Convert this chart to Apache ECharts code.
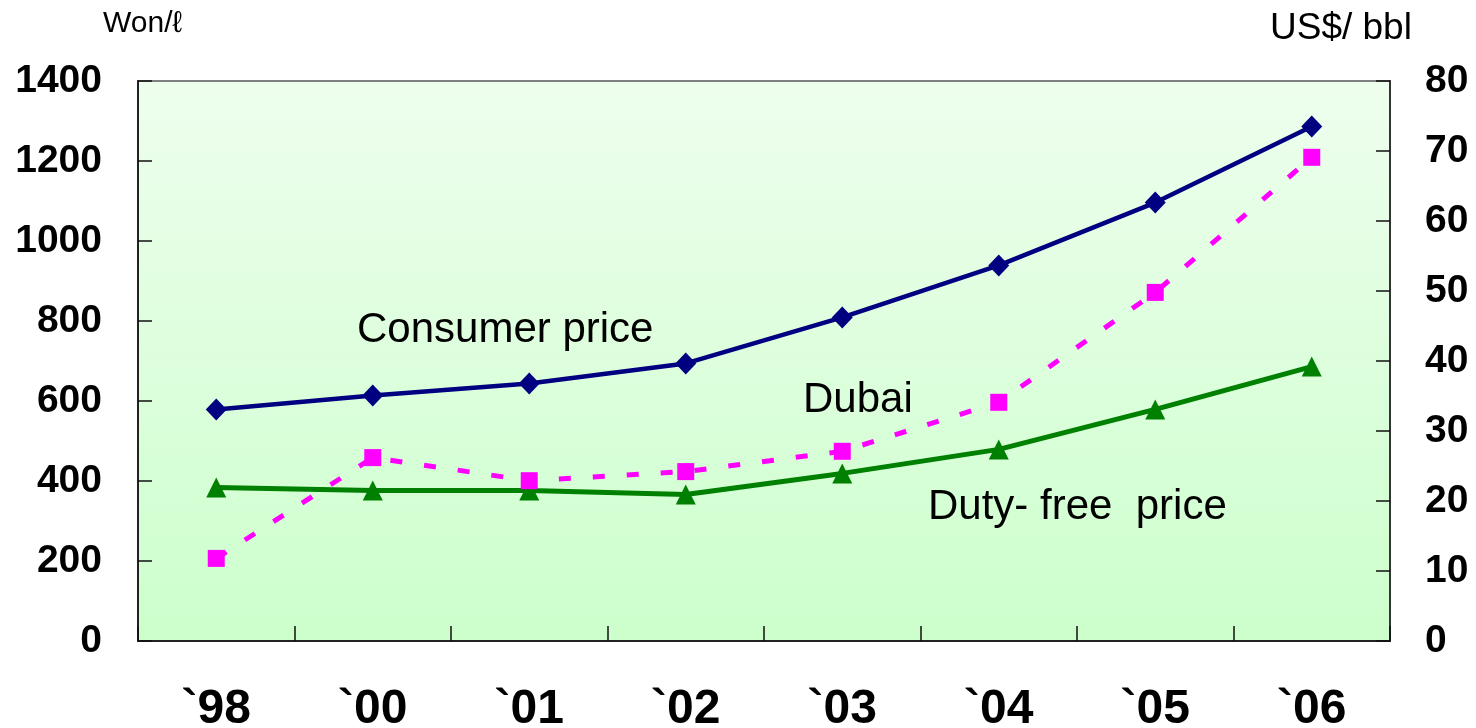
<!DOCTYPE html>
<html>
<head>
<meta charset="utf-8">
<script src="https://cdn.jsdelivr.net/npm/echarts@6/dist/echarts.min.js"></script>
<style>
  html, body { margin: 0; padding: 0; background: #ffffff; }
  #chart { width: 1476px; height: 728px; }
</style>
</head>
<body>
<div id="chart"></div>
<script>
// ---- data ----
const categories = ["`98", "`00", "`01", "`02", "`03", "`04", "`05", "`06"];
const consumerPrice = [579, 614, 644, 694, 809, 939, 1096, 1286];   // Won/ℓ (left axis)
const dutyFreePrice = [384, 376, 376, 366, 419, 479, 579, 686];     // Won/ℓ (left axis)
const dubaiPrice = [11.8, 26.2, 22.9, 24.2, 27.1, 34.1, 49.8, 69.1]; // US$/bbl (right axis)
const leftTicks = { min: 0, max: 1400, interval: 200 };
const rightTicks = { min: 0, max: 80, interval: 10 };

const chart = echarts.init(document.getElementById('chart'), null, { renderer: 'canvas' });
const FONT = '"Liberation Sans", Arial, sans-serif';
const NARROW = '"Liberation Sans Narrow", "Arial Narrow", "Liberation Sans", Arial, sans-serif';

chart.setOption({
  backgroundColor: '#ffffff',
  animation: false,
  grid: {
    left: 138, right: 86, top: 81, bottom: 87,
    containLabel: false,
    outerBoundsMode: 'none',
    show: true,
    borderColor: '#808080',
    borderWidth: 2,
    backgroundColor: {
      type: 'linear', x: 0, y: 0, x2: 0, y2: 1,
      colorStops: [
        { offset: 0, color: '#EEFEEE' },
        { offset: 1, color: '#CCFFCC' }
      ]
    }
  },
  xAxis: {
    type: 'category',
    data: categories,
    boundaryGap: true,
    axisLine: { show: true, lineStyle: { color: '#222222', width: 2 } },
    axisTick: { show: true, inside: true, length: 15, lineStyle: { color: '#111111', width: 1.5 } },
    axisLabel: {
      color: '#000000', fontFamily: NARROW, fontWeight: 'bold', fontSize: 48,
      margin: 69, verticalAlign: 'middle', lineHeight: 48
    },
    splitLine: { show: false }
  },
  yAxis: [
    {
      type: 'value',
      min: leftTicks.min, max: leftTicks.max, interval: leftTicks.interval,
      axisLine: { show: true, lineStyle: { color: '#222222', width: 2 } },
      axisTick: { show: true, inside: true, length: 14, lineStyle: { color: '#111111', width: 1.5 } },
      axisLabel: { color: '#000000', fontFamily: FONT, fontWeight: 'bold', fontSize: 39, margin: 36,
                   formatter: function (v) { return String(v); } },
      splitLine: { show: false }
    },
    {
      type: 'value',
      position: 'right',
      min: rightTicks.min, max: rightTicks.max, interval: rightTicks.interval,
      axisLine: { show: true, lineStyle: { color: '#333333', width: 2 } },
      axisTick: { show: true, inside: true, length: 14, lineStyle: { color: '#111111', width: 1.5 } },
      axisLabel: { color: '#000000', fontFamily: FONT, fontWeight: 'bold', fontSize: 39, margin: 35,
                   formatter: function (v) { return String(v); } },
      splitLine: { show: false }
    }
  ],
  series: [
    {
      name: 'Duty-free price', type: 'line', yAxisIndex: 0,
      data: dutyFreePrice,
      lineStyle: { color: '#008000', width: 5 },
      itemStyle: { color: '#008000' },
      symbol: 'triangle', symbolSize: 20, showAllSymbol: true
    },
    {
      name: 'Dubai', type: 'line', yAxisIndex: 1,
      data: dubaiPrice,
      lineStyle: { color: '#FF00FF', width: 5, type: [12, 22] },
      itemStyle: { color: '#FF00FF' },
      symbol: 'rect', symbolSize: 17, showAllSymbol: true
    },
    {
      name: 'Consumer price', type: 'line', yAxisIndex: 0,
      data: consumerPrice,
      lineStyle: { color: '#000080', width: 4.5 },
      itemStyle: { color: '#000080' },
      symbol: 'diamond', symbolSize: [21, 22], showAllSymbol: true
    }
  ],
  graphic: [
    { type: 'text', x: 103, y: 24,
      style: { text: 'Won/ℓ', fontFamily: FONT, fontSize: 30, fill: '#000000', verticalAlign: 'middle' } },
    { type: 'text', x: 1270, y: 29,
      style: { text: 'US$/ bbl', fontFamily: FONT, fontSize: 37, fill: '#000000', verticalAlign: 'middle' } },
    { type: 'text', x: 357, y: 330,
      style: { text: 'Consumer price', fontFamily: FONT, fontSize: 42, fill: '#000000', verticalAlign: 'middle' } },
    { type: 'text', x: 803, y: 400,
      style: { text: 'Dubai', fontFamily: FONT, fontSize: 42, fill: '#000000', verticalAlign: 'middle' } },
    { type: 'text', x: 928, y: 507,
      style: { text: 'Duty- free  price', fontFamily: FONT, fontSize: 42, fill: '#000000', verticalAlign: 'middle' } }
  ]
});
</script>
</body>
</html>
